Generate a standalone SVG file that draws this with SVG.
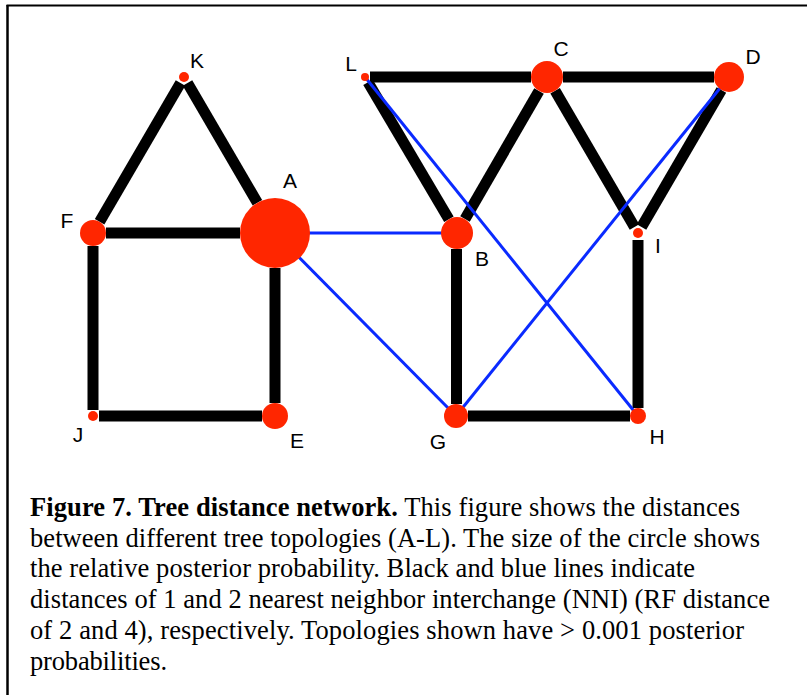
<svg xmlns="http://www.w3.org/2000/svg" width="807" height="695" viewBox="0 0 807 695">
<style>
.blk{stroke:#000;stroke-width:11;stroke-linecap:butt;fill:none}
.blu{stroke:#0a2aff;stroke-width:3;fill:none}
.nd{fill:#ff2600}
.lb{font-family:"Liberation Sans",Arial,sans-serif;font-size:21px;fill:#000;text-anchor:middle}
.cap{font-family:"Liberation Serif","Times New Roman",serif;font-size:26.5px;fill:#000}
</style>
<rect width="807" height="695" fill="#fff"/>
<g id="frame" stroke="#000" fill="none">
<line x1="6.5" y1="5.5" x2="807" y2="5.5" stroke-width="2"/>
<line x1="7.5" y1="5" x2="7.5" y2="695" stroke-width="2.5"/>
</g>
<g id="connectors">
<line class="blk" x1="180.5" y1="83" x2="99.6" y2="221.8"/>
<line class="blk" x1="187.5" y1="83" x2="257.4" y2="202.8"/>
<line class="blk" x1="106" y1="233" x2="240" y2="233"/>
<line class="blk" x1="93" y1="246" x2="93" y2="410"/>
<line class="blk" x1="99" y1="416" x2="262" y2="416"/>
<line class="blk" x1="275" y1="268" x2="275" y2="403"/>
<line class="blk" x1="370" y1="77" x2="531" y2="77"/>
<line class="blk" x1="563" y1="77" x2="714" y2="77"/>
<line class="blk" x1="368" y1="82.2" x2="448.9" y2="219.2"/>
<line class="blk" x1="539" y1="90.9" x2="465" y2="219.1"/>
<line class="blk" x1="555.1" y1="90.8" x2="634.5" y2="227"/>
<line class="blk" x1="721.4" y1="90" x2="641.5" y2="227"/>
<line class="blk" x1="456.5" y1="249" x2="456.5" y2="404"/>
<line class="blk" x1="468" y1="416" x2="630" y2="416"/>
<line class="blk" x1="638" y1="240" x2="638" y2="408"/>
<line class="blu" x1="275" y1="233" x2="457" y2="233"/>
<line class="blu" x1="275" y1="233" x2="456" y2="416"/>
<line class="blu" x1="365" y1="77" x2="638" y2="416"/>
<line class="blu" x1="729" y1="77" x2="456" y2="416"/>
</g>
<g id="node-K"><circle class="nd" cx="184" cy="77" r="5"/><text class="lb" x="197" y="68">K</text></g>
<g id="node-F"><circle class="nd" cx="93" cy="233" r="13"/><text class="lb" x="67" y="228">F</text></g>
<g id="node-A"><circle class="nd" cx="275" cy="233" r="35"/><text class="lb" x="290" y="188">A</text></g>
<g id="node-E"><circle class="nd" cx="275" cy="416" r="13"/><text class="lb" x="297" y="448">E</text></g>
<g id="node-J"><circle class="nd" cx="93" cy="416" r="5"/><text class="lb" x="78" y="442">J</text></g>
<g id="node-L"><circle class="nd" cx="365" cy="77" r="4"/><text class="lb" x="351" y="71">L</text></g>
<g id="node-C"><circle class="nd" cx="547" cy="77" r="16"/><text class="lb" x="561" y="56">C</text></g>
<g id="node-D"><circle class="nd" cx="729" cy="77" r="15"/><text class="lb" x="753" y="64">D</text></g>
<g id="node-B"><circle class="nd" cx="457" cy="233" r="16"/><text class="lb" x="482" y="266">B</text></g>
<g id="node-I"><circle class="nd" cx="638" cy="233" r="5"/><text class="lb" x="658" y="253">I</text></g>
<g id="node-G"><circle class="nd" cx="456" cy="416" r="12"/><text class="lb" x="438" y="449">G</text></g>
<g id="node-H"><circle class="nd" cx="638" cy="416" r="8"/><text class="lb" x="657" y="444">H</text></g>
<g id="caption" class="cap">
<text x="30" y="516" textLength="710" lengthAdjust="spacing"><tspan font-weight="bold">Figure 7. Tree distance network.</tspan> This figure shows the distances</text>
<text x="30" y="547" textLength="730" lengthAdjust="spacing">between different tree topologies (A-L). The size of the circle shows</text>
<text x="30" y="577" textLength="665" lengthAdjust="spacing">the relative posterior probability. Black and blue lines indicate</text>
<text x="30" y="608" textLength="740" lengthAdjust="spacing">distances of 1 and 2 nearest neighbor interchange (NNI) (RF distance</text>
<text x="30" y="639" textLength="714" lengthAdjust="spacing">of 2 and 4), respectively. Topologies shown have &gt; 0.001 posterior</text>
<text x="30" y="670" textLength="137" lengthAdjust="spacing">probabilities.</text>
</g>
</svg>
